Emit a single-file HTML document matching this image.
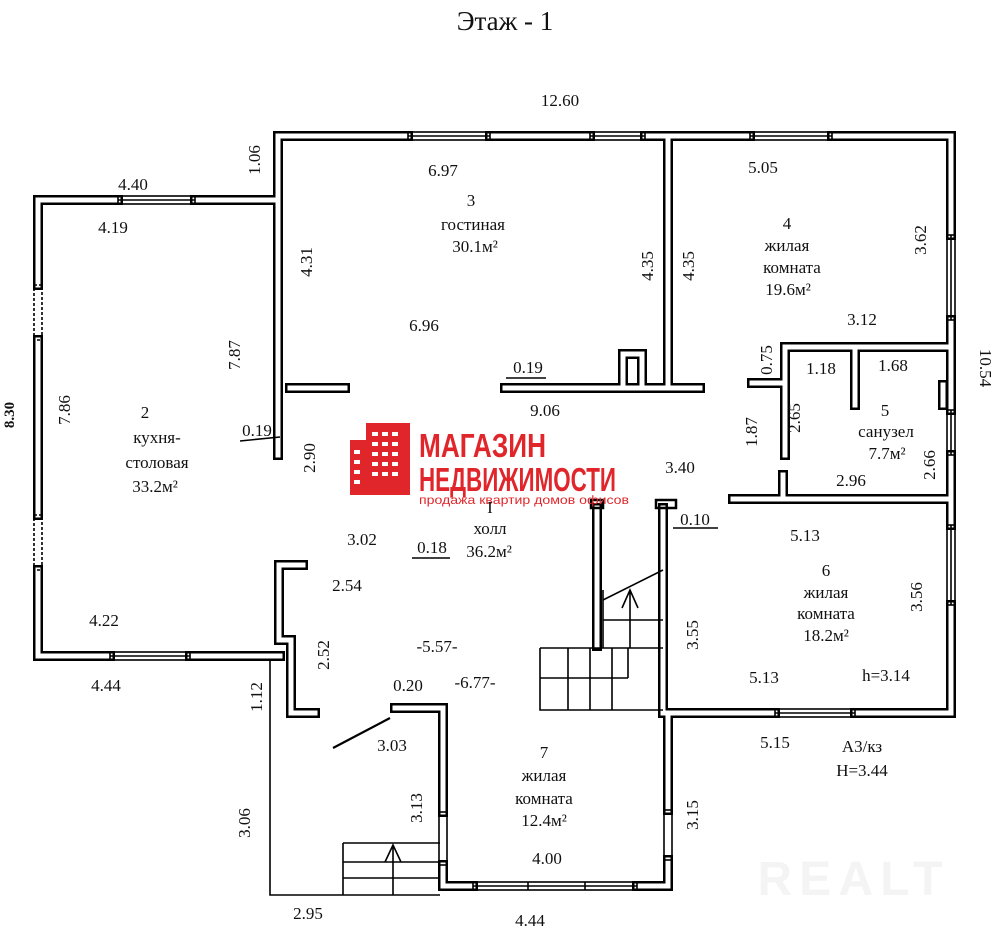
<!DOCTYPE html>
<html><head><meta charset="utf-8"><style>
html,body{margin:0;padding:0;background:#fff;}
svg{display:block;}
text{font-family:"Liberation Serif",serif;font-size:17px;fill:#111;text-anchor:middle;}
.s{font-family:"Liberation Sans",sans-serif;}
</style></head><body>
<svg width="993" height="950" viewBox="0 0 993 950" xmlns="http://www.w3.org/2000/svg">
<defs>
<g id="w" fill="none" stroke-linejoin="miter" stroke-linecap="square">
<path d="M278 200 L278 136 L408 136 M490 136 L590 136 M645 136 L750 136 M832 136 L951 136 L951 235 M951 320 L951 410 M951 455 L951 525 M951 605 L951 713 L855 713 M775 713 L668 713 L668 810 M668 860 L668 886 L637 886 M473 886 L443 886 L443 865 M443 812 L443 708 L395 708"/>
<path d="M278 200 L195 200 M118 200 L38 200 L38 285 M38 340 L38 515 M38 570 L38 656 L110 656 M190 656 L280 656"/>
<path d="M278 200 L278 455"/>
<path d="M303 565 L279 565 L279 640 L291 640 L291 713 L315 713"/>
<path d="M668 136 L668 388 M505 388 L700 388 M623 388 L623 354 L642 354 L642 388 M290 388 L345 388"/>
<path d="M951 347 L785 347 L785 455 M752 383 L785 383 M855 347 L855 405 M943 385 L943 405"/>
<path d="M733 499 L951 499 M783 475 L783 499"/>
<path d="M597 508 L597 646 M663 508 L663 713"/>
</g>
</defs>
<use href="#w" stroke="#000" stroke-width="10"/>
<use href="#w" stroke="#fff" stroke-width="5"/>
<g stroke="#000" stroke-width="1.6" fill="none">
<rect x="408" y="132" width="82" height="8"/><line x1="408" y1="136" x2="490" y2="136"/>
<rect x="590" y="132" width="55" height="8"/><line x1="590" y1="136" x2="645" y2="136"/>
<rect x="750" y="132" width="82" height="8"/><line x1="750" y1="136" x2="832" y2="136"/>
<rect x="118" y="196" width="77" height="8"/><line x1="118" y1="200" x2="195" y2="200"/>
<rect x="947" y="235" width="8" height="85"/><line x1="951" y1="235" x2="951" y2="320"/>
<rect x="947" y="410" width="8" height="45"/><line x1="951" y1="410" x2="951" y2="455"/>
<rect x="947" y="525" width="8" height="80"/><line x1="951" y1="525" x2="951" y2="605"/>
<rect x="775" y="709" width="80" height="8"/><line x1="775" y1="713" x2="855" y2="713"/>
<rect x="110" y="652" width="80" height="8"/><line x1="110" y1="656" x2="190" y2="656"/>
<rect x="473" y="882" width="164" height="8"/><line x1="473" y1="886" x2="637" y2="886"/><line x1="528" y1="882" x2="528" y2="890"/><line x1="585" y1="882" x2="585" y2="890"/>
<rect x="439" y="812" width="8" height="53"/>
<rect x="664" y="810" width="8" height="50"/>
<rect x="34" y="285" width="8" height="55" stroke-dasharray="3 2"/>
<rect x="34" y="515" width="8" height="55" stroke-dasharray="3 2"/>
<rect x="591" y="500" width="12" height="8" stroke-width="2.5"/>
<rect x="656" y="500" width="20" height="8" stroke-width="2.5"/>
<path d="M270 660 L270 895 L440 895"/>
<path d="M540 648 L663 648 M540 648 L540 710 L663 710 M540 678 L628 678 M568 648 L568 710 M590 648 L590 710 M612 648 L612 710 M628 648 L628 678 M603 648 L603 590 M603 620 L663 620 M603 600 L663 570 M630 648 L630 590 M622 608 L630 590 L638 608"/>
<path d="M343 843 L440 843 M343 843 L343 895 M343 862 L440 862 M343 878 L440 878 M393 895 L393 845 M385 862 L393 845 L401 862"/>
<path d="M333 748 L390 718" stroke-width="2.2"/>
<path d="M240 441 L280 437 M506 378 L546 378 M412 558 L450 558 M673 528 L718 528"/>
</g>
<g fill="#e0262b">
<rect x="350" y="440" width="22" height="55"/>
<rect x="366" y="423" width="44" height="72"/>
<g fill="#fff">
<rect x="372" y="432" width="6" height="4"/><rect x="382" y="432" width="6" height="4"/><rect x="392" y="432" width="6" height="4"/>
<rect x="372" y="442" width="6" height="4"/><rect x="382" y="442" width="6" height="4"/><rect x="392" y="442" width="6" height="4"/>
<rect x="372" y="452" width="6" height="4"/><rect x="382" y="452" width="6" height="4"/><rect x="392" y="452" width="6" height="4"/>
<rect x="372" y="462" width="6" height="4"/><rect x="382" y="462" width="6" height="4"/><rect x="392" y="462" width="6" height="4"/>
<rect x="372" y="472" width="6" height="4"/><rect x="382" y="472" width="6" height="4"/><rect x="392" y="472" width="6" height="4"/>
<rect x="354" y="450" width="6" height="4"/><rect x="354" y="460" width="6" height="4"/><rect x="354" y="470" width="6" height="4"/><rect x="354" y="480" width="6" height="4"/>
</g>
</g>
<text x="419" y="457" class="s" style="font-size:33px;font-weight:bold;fill:#e0262b;text-anchor:start" textLength="127" lengthAdjust="spacingAndGlyphs">МАГАЗИН</text>
<text x="419" y="491" class="s" style="font-size:33px;font-weight:bold;fill:#e0262b;text-anchor:start" textLength="197" lengthAdjust="spacingAndGlyphs">НЕДВИЖИМОСТИ</text>
<text x="419" y="504" class="s" style="font-size:12px;fill:#e0262b;text-anchor:start" textLength="210" lengthAdjust="spacingAndGlyphs">продажа квартир домов офисов</text>
<text x="850" y="895" class="s" style="font-size:48px;fill:#f4f4f4;font-weight:bold" textLength="185">REALT</text>
<text x="505" y="30" style="font-size:27px">Этаж - 1</text>
<text x="560" y="106">12.60</text>
<text x="260" y="160" transform="rotate(-90 260 160)">1.06</text>
<text x="133" y="190">4.40</text>
<text x="113" y="233">4.19</text>
<text x="443" y="176">6.97</text>
<text x="471" y="206">3</text>
<text x="473" y="230">гостиная</text>
<text x="475" y="252">30.1м²</text>
<text x="312" y="262" transform="rotate(-90 312 262)">4.31</text>
<text x="653" y="266" transform="rotate(-90 653 266)">4.35</text>
<text x="694" y="266" transform="rotate(-90 694 266)">4.35</text>
<text x="763" y="173">5.05</text>
<text x="787" y="229">4</text>
<text x="787" y="251">жилая</text>
<text x="792" y="273">комната</text>
<text x="788" y="295">19.6м²</text>
<text x="926" y="240" transform="rotate(-90 926 240)">3.62</text>
<text x="862" y="325">3.12</text>
<text x="424" y="331">6.96</text>
<text x="240" y="355" transform="rotate(-90 240 355)">7.87</text>
<text x="70" y="410" transform="rotate(-90 70 410)">7.86</text>
<text x="14" y="415" transform="rotate(-90 14 415)" style="font-weight:bold;font-size:15px">8.30</text>
<text x="145" y="418">2</text>
<text x="157" y="443">кухня-</text>
<text x="157" y="468">столовая</text>
<text x="155" y="492">33.2м²</text>
<text x="257" y="436">0.19</text>
<text x="315" y="458" transform="rotate(-90 315 458)">2.90</text>
<text x="528" y="373">0.19</text>
<text x="545" y="416">9.06</text>
<text x="772" y="360" transform="rotate(-90 772 360)">0.75</text>
<text x="821" y="374">1.18</text>
<text x="893" y="371">1.68</text>
<text x="980" y="368" transform="rotate(90 980 368)">10.54</text>
<text x="800" y="418" transform="rotate(-90 800 418)">2.65</text>
<text x="757" y="432" transform="rotate(-90 757 432)">1.87</text>
<text x="885" y="416">5</text>
<text x="886" y="437">санузел</text>
<text x="887" y="459">7.7м²</text>
<text x="935" y="465" transform="rotate(-90 935 465)">2.66</text>
<text x="851" y="486">2.96</text>
<text x="680" y="473">3.40</text>
<text x="695" y="525">0.10</text>
<text x="490" y="513">I</text>
<text x="490" y="534">холл</text>
<text x="489" y="557">36.2м²</text>
<text x="362" y="545">3.02</text>
<text x="432" y="553">0.18</text>
<text x="347" y="591">2.54</text>
<text x="805" y="541">5.13</text>
<text x="826" y="576">6</text>
<text x="826" y="598">жилая</text>
<text x="826" y="619">комната</text>
<text x="826" y="641">18.2м²</text>
<text x="922" y="597" transform="rotate(-90 922 597)">3.56</text>
<text x="104" y="626">4.22</text>
<text x="698" y="635" transform="rotate(-90 698 635)">3.55</text>
<text x="329" y="655" transform="rotate(-90 329 655)">2.52</text>
<text x="437" y="652">-5.57-</text>
<text x="106" y="691">4.44</text>
<text x="764" y="683">5.13</text>
<text x="886" y="681">h=3.14</text>
<text x="408" y="691">0.20</text>
<text x="475" y="688">-6.77-</text>
<text x="262" y="697" transform="rotate(-90 262 697)">1.12</text>
<text x="392" y="751">3.03</text>
<text x="775" y="748">5.15</text>
<text x="862" y="752">А3/кз</text>
<text x="862" y="776">Н=3.44</text>
<text x="544" y="758">7</text>
<text x="544" y="781">жилая</text>
<text x="544" y="804">комната</text>
<text x="544" y="826">12.4м²</text>
<text x="250" y="823" transform="rotate(-90 250 823)">3.06</text>
<text x="422" y="808" transform="rotate(-90 422 808)">3.13</text>
<text x="698" y="815" transform="rotate(-90 698 815)">3.15</text>
<text x="547" y="864">4.00</text>
<text x="308" y="919">2.95</text>
<text x="530" y="926">4.44</text>
</svg>
</body></html>
